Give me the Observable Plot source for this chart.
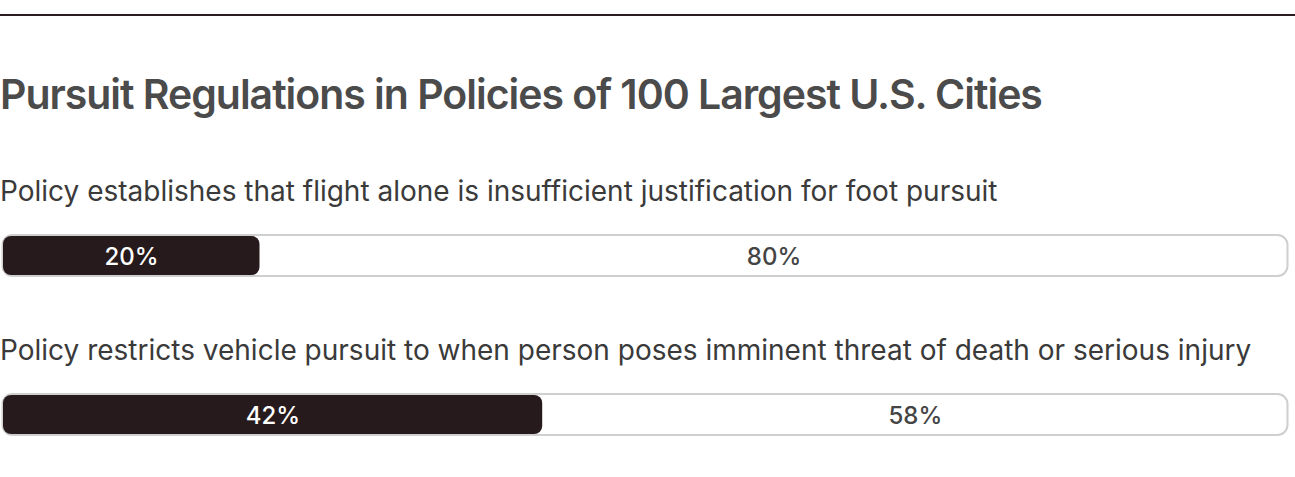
<!DOCTYPE html>
<html>
<head>
<meta charset="utf-8">
<script src="https://cdn.jsdelivr.net/npm/d3@7"></script>
<script src="https://cdn.jsdelivr.net/npm/@observablehq/plot@0.6"></script>
<style>
  html, body { margin: 0; padding: 0; background: #fff; }
  #page { position: relative; width: 1295px; height: 477px; overflow: hidden; font-family: Inter, "Noto Sans", sans-serif; }
  #rule { position: absolute; left: 0; right: 0; top: 14px; height: 2px; background: #2a1c1f; }
  #title { position: absolute; left: 0; top: 74px; margin: 0; font-size: 41px; line-height: 41px; font-weight: 600; color: #4b4b4b; letter-spacing: -0.025em; white-space: nowrap; }
  .sub { position: absolute; left: 0; margin: 0; font-size: 28px; line-height: 28px; font-weight: 400; color: #3a3a3a; letter-spacing: 0; white-space: nowrap; }
  .bar { position: absolute; left: 0; }
</style>
</head>
<body>
<div id="page">
  <div id="rule"></div>
  <h1 id="title">Pursuit Regulations in Policies of 100 Largest U.S. Cities</h1>
</div>
<script>
const title = "Pursuit Regulations in Policies of 100 Largest U.S. Cities";
const questions = [
  "Policy establishes that flight alone is insufficient justification for foot pursuit",
  "Policy restricts vehicle pursuit to when person poses imminent threat of death or serious injury"
];
const yesValues = [20, 42];
const noValues = [80, 58];

const subTops = [177, 336];
const barTops = [233, 392];

const page = document.getElementById("page");

questions.forEach((q, i) => {
  const sub = document.createElement("div");
  sub.className = "sub";
  sub.style.top = subTops[i] + "px";
  sub.textContent = q;
  page.appendChild(sub);

  const yes = yesValues[i], no = noValues[i];
  const segs = [
    {start: 0, end: yes, label: yes + "%", kind: "yes"},
    {start: yes, end: yes + no, label: no + "%", kind: "no"}
  ];
  const total = yes + no;

  const chart = Plot.plot({
    width: 1295,
    height: 46,
    marginTop: 2,
    marginBottom: 3,
    marginLeft: 0,
    marginRight: 0,
    x: {domain: [0, total], range: [2.5, 1287.5], axis: null},
    style: {fontFamily: "Inter, 'Noto Sans', sans-serif", background: "transparent"},
    marks: [
      Plot.barX([{start: 0, end: total}], {x1: "start", x2: "end", fill: "#fff", stroke: "#cfcfcf", strokeWidth: 2, rx: 10}),
      Plot.barX(segs.filter(d => d.kind === "yes"), {x1: "start", x2: "end", fill: "#261a1d", rx: 8, insetTop: 1, insetBottom: 1, insetLeft: 0.5}),
      Plot.text(segs, {
        x: d => (d.start + d.end) / 2,
        text: "label",
        fill: d => d.kind === "yes" ? "#ffffff" : "#444444",
        fontSize: 24,
        fontWeight: 500,
        dy: 1
      })
    ]
  });
  chart.classList.add("bar");
  chart.style.top = barTops[i] + "px";
  page.appendChild(chart);
});
</script>
</body>
</html>
